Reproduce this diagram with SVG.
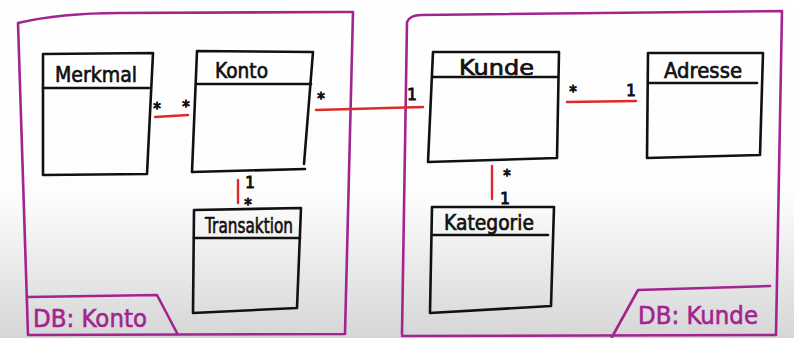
<svg xmlns="http://www.w3.org/2000/svg" width="794" height="338" viewBox="0 0 794 338">
  <defs>
    <linearGradient id="paper" x1="0" y1="0" x2="0" y2="1">
      <stop offset="0" stop-color="#ffffff"/>
      <stop offset="0.58" stop-color="#fdfdfd"/>
      <stop offset="1" stop-color="#d6d6d6"/>
    </linearGradient>
  </defs>
  <style>
    .box { fill: none; stroke: #111; stroke-width: 2.6; stroke-linecap: round; stroke-linejoin: round; }
    .pkg { fill: none; stroke: #a3238f; stroke-width: 2.6; stroke-linecap: round; stroke-linejoin: round; }
    .assoc { fill: none; stroke: #e02a2a; stroke-width: 2.4; stroke-linecap: round; }
    .name { font-family: "DejaVu Sans", "Liberation Sans", sans-serif; font-size: 21px; fill: #111; stroke: #111; stroke-width: 0.7; }
    .mult { font-family: "DejaVu Sans", "Liberation Sans", sans-serif; font-size: 15px; fill: #111; stroke: #111; stroke-width: 1; text-anchor: middle; }
    .pkgname { font-family: "DejaVu Sans", "Liberation Sans", sans-serif; font-size: 25px; fill: #a3238f; stroke: #a3238f; stroke-width: 0.6; }
  </style>

  <rect x="0" y="0" width="794" height="338" fill="url(#paper)"/>

  <!-- package: DB: Konto -->
  <g id="pkg-konto">
    <path class="pkg" d="M18,23 Q60,13 120,13 L343,12 L353,12 L345,334 L28,335 L18,23"/>
    <path class="pkg" d="M28,297 L157,295 L177,333"/>
    <text class="pkgname" x="33" y="327" textLength="114" lengthAdjust="spacingAndGlyphs">DB: Konto</text>
  </g>

  <!-- package: DB: Kunde -->
  <g id="pkg-kunde">
    <path class="pkg" d="M402,334 L407,22 Q410,15 421,15 L782,11 L776,335 L402,336"/>
    <path class="pkg" d="M612,337 L638,290 L770,286"/>
    <text class="pkgname" x="638" y="324" textLength="120" lengthAdjust="spacingAndGlyphs">DB: Kunde</text>
  </g>

  <!-- classes -->
  <g id="merkmal">
    <path class="box" d="M43,54 L153,53 L147,174 L43,175 Z"/>
    <path class="box" d="M43,88 L149,88"/>
    <text class="name" x="55" y="82" textLength="82" lengthAdjust="spacingAndGlyphs">Merkmal</text>
  </g>

  <g id="konto">
    <path class="box" d="M192,172 L197,51 L313,52 L304,164"/>
    <path class="box" d="M192,172 L305,169"/>
    <path class="box" d="M197,84 L311,84"/>
    <text class="name" x="215" y="78" textLength="53" lengthAdjust="spacingAndGlyphs">Konto</text>
  </g>

  <g id="transaktion">
    <path class="box" d="M194,210 L301,208 L297,308 L193,313 Z"/>
    <path class="box" d="M194,238 L300,238"/>
    <text class="name" x="205" y="233" font-size="19" textLength="88" lengthAdjust="spacingAndGlyphs">Transaktion</text>
  </g>

  <g id="kunde">
    <path class="box" d="M433,52 L559,52 L557,158 L428,162 L433,52"/>
    <path class="box" d="M433,77 L558,77"/>
    <text class="name" x="459" y="75" textLength="75" lengthAdjust="spacingAndGlyphs">Kunde</text>
  </g>

  <g id="adresse">
    <path class="box" d="M648,53 L763,53 L760,155 L647,158 Z"/>
    <path class="box" d="M648,83 L757,83"/>
    <text class="name" x="664" y="78" textLength="78" lengthAdjust="spacingAndGlyphs">Adresse</text>
  </g>

  <g id="kategorie">
    <path class="box" d="M432,207 L554,207 L551,306 L430,313 Z"/>
    <path class="box" d="M432,235 L548,235"/>
    <text class="name" x="444" y="230" font-size="19" textLength="90" lengthAdjust="spacingAndGlyphs">Kategorie</text>
  </g>

  <!-- associations with multiplicities -->
  <g id="connectors">
    <path class="assoc" d="M155,117 L188,115"/>
    <text class="mult" x="157" y="114">*</text>
    <text class="mult" x="186" y="112">*</text>

    <path class="assoc" d="M316,110 L423,107"/>
    <text class="mult" x="321" y="104" font-size="19">*</text>
    <text class="mult" x="412" y="100">1</text>

    <path class="assoc" d="M238,180 L238,203"/>
    <text class="mult" x="250" y="188" font-size="12">1</text>
    <text class="mult" x="248" y="210" font-size="13">*</text>

    <path class="assoc" d="M567,102 L636,101"/>
    <text class="mult" x="573" y="97" font-size="18">*</text>
    <text class="mult" x="631" y="96">1</text>

    <path class="assoc" d="M492,166 L492,199"/>
    <text class="mult" x="507" y="181" font-size="19">*</text>
    <text class="mult" x="505" y="204" font-size="13">1</text>
  </g>
</svg>
